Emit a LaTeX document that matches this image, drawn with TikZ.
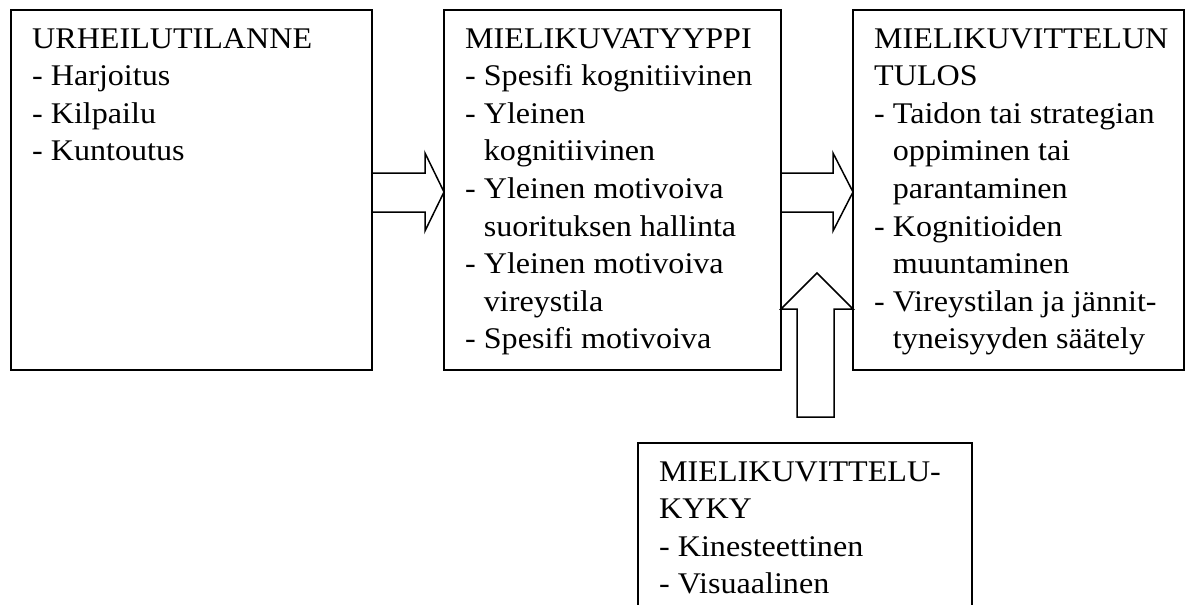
\documentclass[tikz,border=0pt]{standalone}
\usepackage{fontspec}
\setmainfont{Liberation Serif}[FakeStretch=1.07]
\usetikzlibrary{calc}
\newcommand{\myind}{\hphantom{-}\ }
\newcommand{\rowx}[1]{\hbox{#1}}
\begin{document}
\begin{tikzpicture}[x=1pt,y=-1pt,
  box/.style={draw, line width=1.5pt, inner sep=0pt, outer sep=0pt, anchor=north west},
  txt/.style={anchor=base west, inner sep=0pt, font=\fontsize{30}{37.6}\selectfont},
  blk/.style={draw, line width=1.5pt, line join=miter}]
\useasboundingbox (0,0) rectangle (1194,605);
\clip (0,0) rectangle (1194,605);
% boxes
\node[box, minimum width=361pt, minimum height=360pt] (b1) at (11,10) {};
\node[box, minimum width=337pt, minimum height=360pt] (b2) at (444,10) {};
\node[box, minimum width=331pt, minimum height=360pt] (b3) at (853,10) {};
\node[box, minimum width=334pt, minimum height=220pt] (b4) at (638,443) {};
% texts
\node[txt] (t1) at ($(b1.north west)+(21,38)$) {\vtop{\rowx{URHEILUTILANNE}\rowx{- Harjoitus}\rowx{- Kilpailu}\rowx{- Kuntoutus}}};
\node[txt] (t2) at ($(b2.north west)+(21,38)$) {\vtop{\rowx{MIELIKUVATYYPPI}\rowx{- Spesifi kognitiivinen}\rowx{- Yleinen}\rowx{\myind kognitiivinen}\rowx{- Yleinen motivoiva}\rowx{\myind suorituksen hallinta}\rowx{- Yleinen motivoiva}\rowx{\myind vireystila}\rowx{- Spesifi motivoiva}}};
\node[txt] (t3) at ($(b3.north west)+(21,38)$) {\vtop{\rowx{MIELIKUVITTELUN}\rowx{TULOS}\rowx{- Taidon tai strategian}\rowx{\myind oppiminen tai}\rowx{\myind parantaminen}\rowx{- Kognitioiden}\rowx{\myind muuntaminen}\rowx{- Vireystilan ja jännit-}\rowx{\myind tyneisyyden säätely}}};
\node[txt] (t4) at ($(b4.north west)+(21,38)$) {\vtop{\rowx{MIELIKUVITTELU-}\rowx{KYKY}\rowx{- Kinesteettinen}\rowx{- Visuaalinen}}};
% block arrows
\draw[blk] ($(b1.north east)+(0,163)$) -- ++(53,0) -- ++(0,-20)
  -- ($(b2.north west)+(0,182)$) -- ($(b1.north east)+(53,221)$) -- ++(0,-19)
  -- ($(b1.north east)+(0,202)$);
\draw[blk] ($(b2.north east)+(0,163)$) -- ++(52,0) -- ++(0,-20)
  -- ($(b3.north west)+(0,182)$) -- ($(b2.north east)+(52,221)$) -- ++(0,-19)
  -- ($(b2.north east)+(0,202)$);
\draw[blk] ($(b4.north west)+(159,-26)$) -- ($(b4.north west)+(159,-134)$)
  -- ($(b2.south east)+(0,-61)$) -- ($($(b2.south east)!0.5!(b3.south west)$)+(0,-97)$)
  -- ($(b3.south west)+(0,-61)$) -- ($(b4.north west)+(196,-134)$)
  -- ($(b4.north west)+(196,-26)$) -- cycle;
\end{tikzpicture}
\end{document}
